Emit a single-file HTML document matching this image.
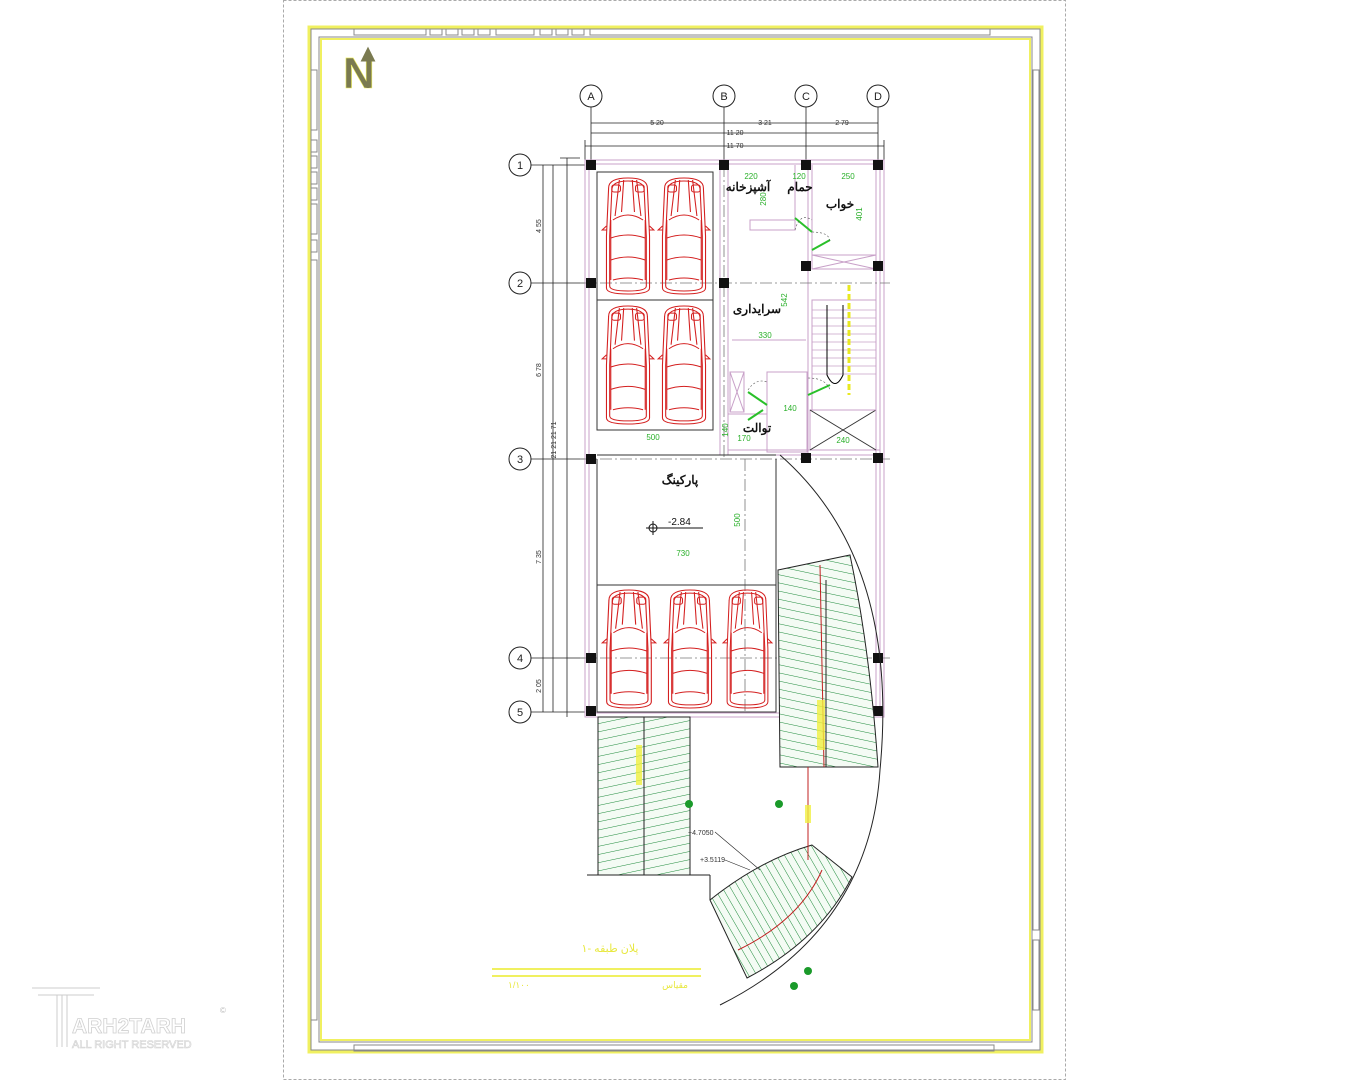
<!DOCTYPE html>
<html><head><meta charset="utf-8"><style>
html,body{margin:0;padding:0;background:#fff;}
svg{display:block;}
text{font-family:"Liberation Sans",sans-serif;}
.fa{font-family:"Liberation Sans","Noto Sans CJK SC","DejaVu Sans",sans-serif;}
</style></head><body>
<svg width="1350" height="1080" viewBox="0 0 1350 1080" xmlns="http://www.w3.org/2000/svg">
<defs>
<symbol id="car" viewBox="0 0 52 120" preserveAspectRatio="none">
<g fill="none" stroke="#d42020" stroke-width="1">
<path d="M8,12 Q8,2 26,2 Q44,2 44,12 L46,60 L46,112 Q46,118 26,118 Q6,118 6,112 L6,60 Z"/>
<path d="M11,14 Q11,5 26,5 Q41,5 41,14 L43,60 L43,110 Q43,115 26,115 Q9,115 9,110 L9,60 Z"/>
<path d="M18,4 L14,40 M34,4 L38,40 M22,4 L20,36 M30,4 L32,36"/>
<path d="M12,44 Q26,34 40,44 M10,62 Q26,56 42,62 M10,84 Q26,78 42,84 M12,104 Q26,100 40,104"/>
<rect x="11" y="9" width="8" height="7" rx="2"/><rect x="33" y="9" width="8" height="7" rx="2"/>
<path d="M6,50 L2,54 L6,54 M46,50 L50,54 L46,54"/>
<path d="M10,44 L10,104 M42,44 L42,104"/>
</g>
</symbol>
<pattern id="hatch" width="8" height="8" patternUnits="userSpaceOnUse" patternTransform="rotate(12)">
<rect width="8" height="8" fill="#f4fbf4"/><line x1="0" y1="0" x2="8" y2="0" stroke="#1d8a3a" stroke-width="1"/>
</pattern>
<pattern id="hatch2" width="8" height="8" patternUnits="userSpaceOnUse" patternTransform="rotate(-12)">
<rect width="8" height="8" fill="#f4fbf4"/><line x1="0" y1="0" x2="8" y2="0" stroke="#1d8a3a" stroke-width="1"/>
</pattern>
<pattern id="hatch3" width="7" height="7" patternUnits="userSpaceOnUse" patternTransform="rotate(60)">
<rect width="7" height="7" fill="#f4fbf4"/><line x1="0" y1="0" x2="7" y2="0" stroke="#1d8a3a" stroke-width="1"/>
</pattern>
</defs>

<rect x="283.5" y="0.5" width="782" height="1079" fill="none" stroke="#aaa" stroke-dasharray="3,2"/>

<g fill="none">
<rect x="309" y="27" width="733" height="1025" stroke="#f0f060" stroke-width="3"/>
<rect x="321" y="39" width="709" height="1001" stroke="#f0f060" stroke-width="2"/>
<g stroke="#888" stroke-width="1">
<rect x="311" y="29" width="729" height="1021"/>
<rect x="319" y="37" width="713" height="1005"/>
<rect x="354" y="29" width="72" height="6"/><rect x="430" y="29" width="12" height="6"/><rect x="446" y="29" width="12" height="6"/><rect x="462" y="29" width="12" height="6"/><rect x="478" y="29" width="12" height="6"/><rect x="496" y="29" width="38" height="6"/><rect x="540" y="29" width="12" height="6"/><rect x="556" y="29" width="12" height="6"/><rect x="572" y="29" width="12" height="6"/><rect x="590" y="29" width="400" height="6"/>
<rect x="354" y="1045" width="640" height="6"/>
<rect x="311" y="70" width="6" height="60"/><rect x="311" y="140" width="6" height="12"/><rect x="311" y="156" width="6" height="12"/><rect x="311" y="172" width="6" height="12"/><rect x="311" y="188" width="6" height="12"/><rect x="311" y="204" width="6" height="30"/><rect x="311" y="240" width="6" height="12"/><rect x="311" y="260" width="6" height="760"/>
<rect x="1033" y="70" width="6" height="860"/><rect x="1033" y="940" width="6" height="70"/>
</g>
</g>

<text x="343" y="88" font-size="44" font-weight="bold" fill="#7a7a50" stroke="#f0f060" stroke-width="0.6">N</text>
<path d="M368,88 L368,56 M363,60 L368,50 L373,60 Z" stroke="#7a7a50" stroke-width="3" fill="#7a7a50"/>

<g stroke="#222" stroke-width="0.8" fill="none">
<line x1="591" y1="107" x2="591" y2="160"/><line x1="724" y1="107" x2="724" y2="160"/><line x1="806" y1="107" x2="806" y2="160"/><line x1="878" y1="107" x2="878" y2="160"/>
<line x1="591" y1="123" x2="878" y2="123"/><line x1="591" y1="133" x2="878" y2="133"/><line x1="585" y1="146" x2="884" y2="146"/>
<line x1="585" y1="140" x2="585" y2="160"/><line x1="884" y1="140" x2="884" y2="160"/>
<line x1="531" y1="165" x2="585" y2="165"/><line x1="531" y1="283" x2="585" y2="283"/><line x1="531" y1="459" x2="585" y2="459"/><line x1="531" y1="658" x2="585" y2="658"/><line x1="531" y1="712" x2="585" y2="712"/>
<line x1="543" y1="165" x2="543" y2="712"/><line x1="553" y1="165" x2="553" y2="712"/><line x1="567" y1="158" x2="567" y2="717"/><line x1="560" y1="158" x2="580" y2="158"/>
</g>
<g font-size="7" fill="#333" text-anchor="middle">
<text x="657" y="125">5 20</text><text x="765" y="125">3 21</text><text x="842" y="125">2 79</text>
<text x="735" y="135">11 20</text><text x="735" y="148">11 70</text>
<text x="541" y="226" transform="rotate(-90 541 226)">4 55</text>
<text x="541" y="370" transform="rotate(-90 541 370)">6 78</text>
<text x="541" y="557" transform="rotate(-90 541 557)">7 35</text>
<text x="541" y="686" transform="rotate(-90 541 686)">2 05</text>
<text x="556" y="440" transform="rotate(-90 556 440)">21 21 21 71</text>
</g>

<g fill="#fff" stroke="#222" stroke-width="1">
<circle cx="591" cy="96" r="11"/><circle cx="724" cy="96" r="11"/><circle cx="806" cy="96" r="11"/><circle cx="878" cy="96" r="11"/>
<circle cx="520" cy="165" r="11"/><circle cx="520" cy="283" r="11"/><circle cx="520" cy="459" r="11"/><circle cx="520" cy="658" r="11"/><circle cx="520" cy="712" r="11"/>
</g>
<g font-size="11" fill="#222" text-anchor="middle">
<text x="591" y="100">A</text><text x="724" y="100">B</text><text x="806" y="100">C</text><text x="878" y="100">D</text>
<text x="520" y="169">1</text><text x="520" y="287">2</text><text x="520" y="463">3</text><text x="520" y="662">4</text><text x="520" y="716">5</text>
</g>

<g fill="none" stroke="#c8a0c8" stroke-width="1">
<rect x="585" y="160" width="299" height="557"/>
<rect x="589" y="164" width="291" height="549"/>
<line x1="720" y1="165" x2="720" y2="455"/><line x1="728" y1="165" x2="728" y2="455"/>
<line x1="808" y1="165" x2="808" y2="265"/><line x1="812" y1="165" x2="812" y2="265"/>
<line x1="808" y1="270" x2="808" y2="455"/><line x1="876" y1="165" x2="876" y2="712"/>
<line x1="728" y1="455" x2="880" y2="455"/><line x1="728" y1="450" x2="880" y2="450"/>
<rect x="750" y="220" width="45" height="10"/><line x1="795" y1="165" x2="795" y2="230"/>
<line x1="732" y1="340" x2="806" y2="340"/>
<rect x="730" y="372" width="14" height="40"/><path d="M730,372 L744,412 M744,372 L730,412"/>
<rect x="767" y="372" width="40" height="80"/>
<line x1="728" y1="414" x2="767" y2="414"/>
<rect x="812" y="255" width="64" height="14"/><path d="M812,255 L876,269 M876,255 L812,269"/>
<rect x="810" y="410" width="66" height="40"/><path d="M810,410 L876,450 M876,410 L810,450" stroke="#333"/>
<rect x="812" y="300" width="64" height="110"/>
</g>
<g stroke="#c8a0c8" stroke-width="0.8">
<line x1="812" y1="310" x2="876" y2="310"/><line x1="812" y1="318" x2="876" y2="318"/><line x1="812" y1="326" x2="876" y2="326"/><line x1="812" y1="334" x2="876" y2="334"/><line x1="812" y1="342" x2="876" y2="342"/><line x1="812" y1="350" x2="876" y2="350"/><line x1="812" y1="358" x2="876" y2="358"/><line x1="812" y1="366" x2="876" y2="366"/><line x1="812" y1="374" x2="876" y2="374"/>
</g>
<path d="M827,305 L827,375 Q835,392 843,375 L843,305" fill="none" stroke="#000" stroke-width="1"/>
<line x1="849" y1="285" x2="849" y2="395" stroke="#e8e820" stroke-width="3" stroke-dasharray="6,3"/>

<g stroke="#777" stroke-width="0.8" stroke-dasharray="12,3,2,3">
<line x1="580" y1="283" x2="890" y2="283"/><line x1="580" y1="459" x2="890" y2="459"/><line x1="580" y1="658" x2="890" y2="658"/>
<line x1="724" y1="165" x2="724" y2="459"/><line x1="745" y1="459" x2="745" y2="712"/>
</g>

<g fill="none" stroke="#333" stroke-width="1">
<rect x="597" y="172" width="116" height="258"/><line x1="597" y1="300" x2="713" y2="300"/>
<rect x="597" y="585" width="179" height="127"/>
<line x1="597" y1="455" x2="776" y2="455"/><line x1="776" y1="459" x2="776" y2="585"/>
<line x1="597" y1="459" x2="597" y2="712"/>
</g>
<use href="#car" x="600" y="176" width="56" height="120"/>
<use href="#car" x="656" y="176" width="56" height="120"/>
<use href="#car" x="600" y="304" width="56" height="122"/>
<use href="#car" x="656" y="304" width="56" height="122"/>
<use href="#car" x="600" y="588" width="58" height="122"/>
<use href="#car" x="662" y="588" width="56" height="122"/>
<use href="#car" x="721" y="588" width="53" height="122"/>

<g stroke="#2ac02a" stroke-width="2">
<line x1="795" y1="218" x2="812" y2="232"/><line x1="812" y1="250" x2="830" y2="240"/>
<line x1="748" y1="392" x2="767" y2="405"/><line x1="748" y1="420" x2="763" y2="410"/>
<line x1="808" y1="395" x2="830" y2="385"/>
</g>
<g fill="none" stroke="#555" stroke-width="0.6" stroke-dasharray="2,2">
<path d="M795,230 Q800,212 812,220"/><path d="M812,232 Q830,232 830,242"/><path d="M748,390 Q756,378 767,382"/><path d="M808,378 Q826,378 830,390"/>
</g>

<g fill="#111">
<rect x="586" y="160" width="10" height="10"/><rect x="719" y="160" width="10" height="10"/><rect x="801" y="160" width="10" height="10"/><rect x="873" y="160" width="10" height="10"/>
<rect x="586" y="278" width="10" height="10"/><rect x="719" y="278" width="10" height="10"/><rect x="801" y="261" width="10" height="10"/><rect x="873" y="261" width="10" height="10"/>
<rect x="586" y="454" width="10" height="10"/><rect x="801" y="453" width="10" height="10"/><rect x="873" y="453" width="10" height="10"/>
<rect x="586" y="653" width="10" height="10"/><rect x="873" y="653" width="10" height="10"/>
<rect x="586" y="706" width="10" height="10"/><rect x="873" y="706" width="10" height="10"/>
</g>

<g font-size="8" fill="#2ab02a" text-anchor="middle">
<text x="751" y="179">220</text><text x="799" y="179">120</text><text x="848" y="179">250</text>
<text x="766" y="199" transform="rotate(-90 766 199)">280</text><text x="862" y="214" transform="rotate(-90 862 214)">401</text>
<text x="787" y="300" transform="rotate(-90 787 300)">542</text><text x="765" y="338">330</text>
<text x="790" y="411">140</text><text x="744" y="441">170</text><text x="728" y="430" transform="rotate(-90 728 430)">140</text>
<text x="843" y="443">240</text><text x="653" y="440">500</text><text x="683" y="556">730</text>
<text x="740" y="520" transform="rotate(-90 740 520)">500</text>
</g>

<g class="fa" font-size="12" fill="#111" text-anchor="middle" font-weight="bold">
<text x="748" y="191">آشپزخانه</text><text x="800" y="191">حمام</text><text x="840" y="208">خواب</text>
<text x="757" y="313">سرایداری</text><text x="757" y="432">توالت</text><text x="680" y="484">پارکینگ</text>
</g>
<circle cx="653" cy="528" r="4" fill="none" stroke="#111"/><path d="M646,528 L703,528 M653,521 L653,535" stroke="#111"/>
<text x="668" y="525" font-size="10" fill="#111">-2.84</text>

<path d="M778,570 L850,555 Q870,650 878,767 L780,767 Z" fill="url(#hatch)" stroke="#222" stroke-width="1"/>
<line x1="820" y1="565" x2="824" y2="767" stroke="#c02020"/>
<line x1="826" y1="580" x2="826" y2="767" stroke="#222"/>
<path d="M598,717 L690,717 L690,875 L598,875 Z" fill="url(#hatch2)" stroke="#222"/>
<line x1="644" y1="717" x2="644" y2="875" stroke="#222"/>
<rect x="636" y="745" width="6" height="40" fill="#f0f040" opacity="0.8"/>
<rect x="817" y="700" width="8" height="50" fill="#f0f040" opacity="0.8"/>
<line x1="587" y1="875" x2="710" y2="875" stroke="#222"/><line x1="710" y1="875" x2="710" y2="900" stroke="#222"/>
<path d="M710,900 Q760,860 812,845 L852,877 Q820,940 747,978 Z" fill="url(#hatch3)" stroke="#222"/>
<path d="M738,950 Q800,920 822,870" fill="none" stroke="#c02020"/>
<line x1="808" y1="767" x2="808" y2="860" stroke="#c02020"/>
<rect x="805" y="805" width="6" height="18" fill="#f0f040" opacity="0.8"/>
<path d="M780,455 Q900,560 880,770 Q870,930 720,1005" fill="none" stroke="#222" stroke-width="1"/>
<g font-size="7" fill="#333"><text x="688" y="835">+4.7050</text><text x="700" y="862">+3.5119</text></g>
<path d="M715,832 L760,870 M725,860 L750,870" stroke="#222" stroke-width="0.6"/>
<g fill="#1a9a2a"><circle cx="689" cy="804" r="4"/><circle cx="779" cy="804" r="4"/><circle cx="808" cy="971" r="4"/><circle cx="794" cy="986" r="4"/></g>

<text class="fa" x="610" y="952" font-size="11" fill="#e8e840" text-anchor="middle">پلان طبقه -۱</text>
<line x1="492" y1="969" x2="701" y2="969" stroke="#f0f060" stroke-width="2"/>
<line x1="492" y1="976" x2="701" y2="976" stroke="#f0f060" stroke-width="2"/>
<text class="fa" x="508" y="988" font-size="9" fill="#e8e840">۱/۱۰۰</text>
<text class="fa" x="688" y="988" font-size="9" fill="#e8e840" text-anchor="end">مقیاس</text>

<g fill="none" stroke="#ccc" stroke-width="1">
<path d="M32,988 L100,988 M38,995 L94,995 M57,995 L57,1047 M62,995 L62,1047 M67,995 L67,1047"/>
</g>
<text x="72" y="1033" font-size="21" fill="#fff" stroke="#d0d0d0" stroke-width="0.8" font-weight="bold">ARH2TARH</text>
<text x="72" y="1048" font-size="11" fill="#fff" stroke="#d0d0d0" stroke-width="0.6">ALL RIGHT RESERVED</text>
<text x="220" y="1013" font-size="8" fill="#bbb">©</text>
</svg>
</body></html>
